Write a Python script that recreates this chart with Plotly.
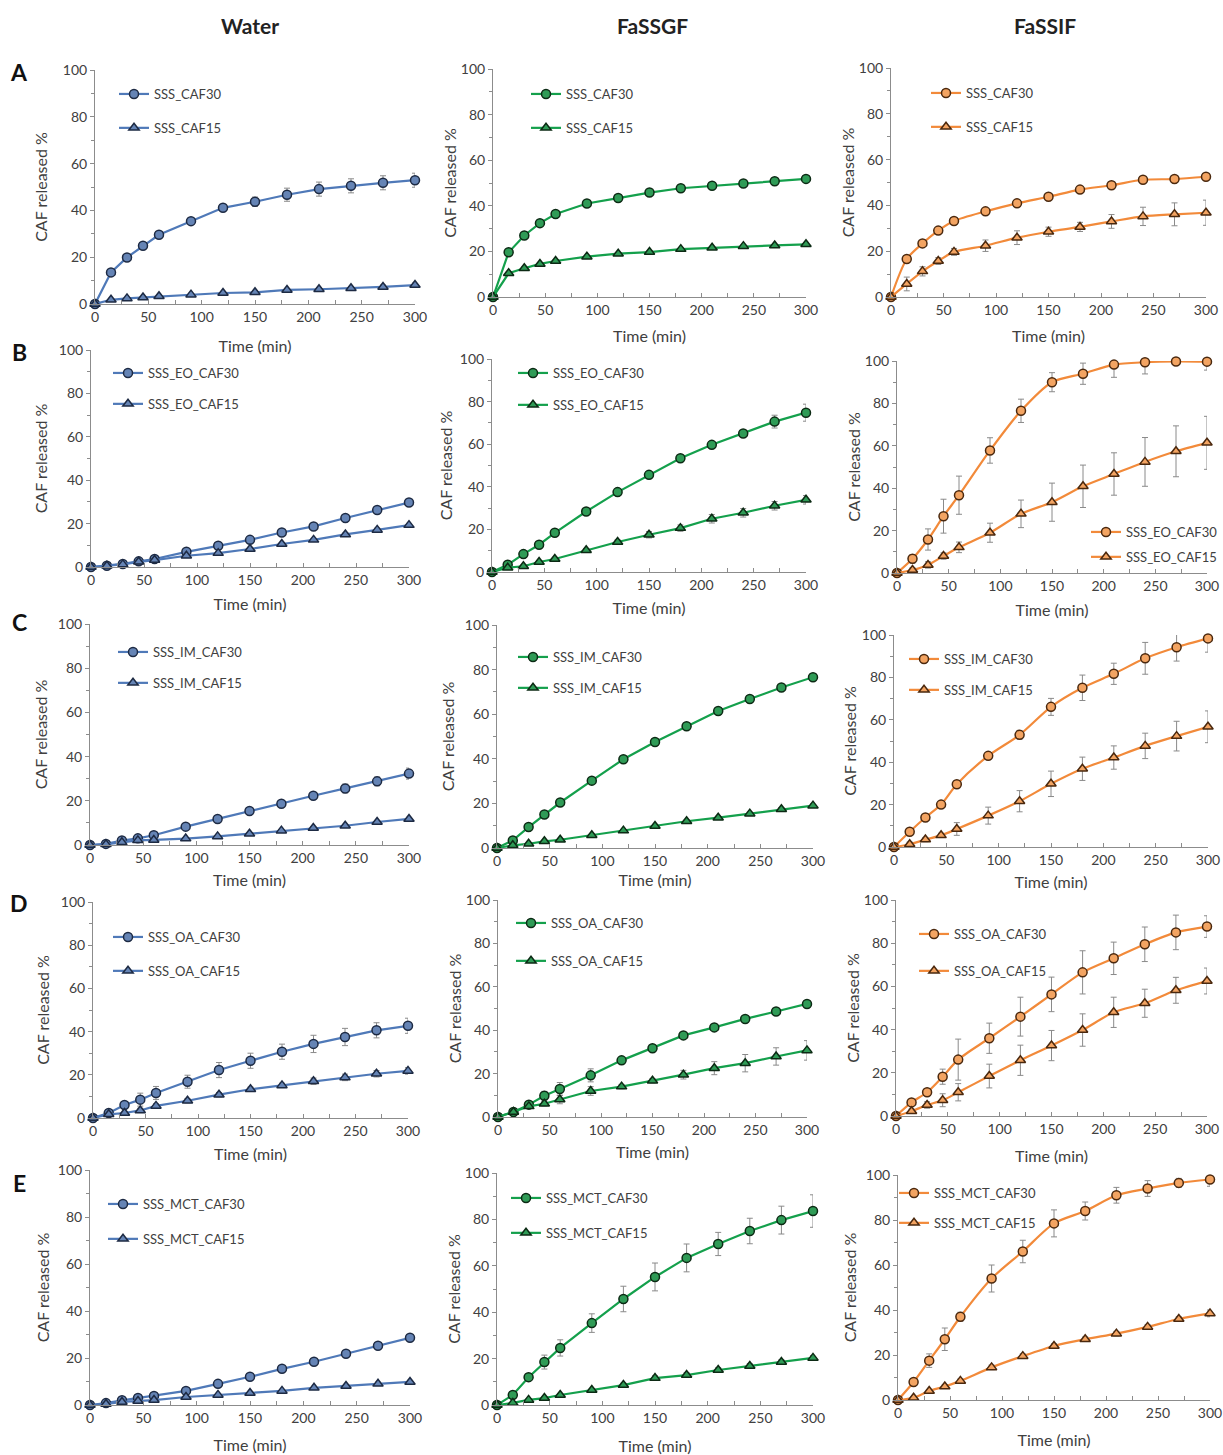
import plotly.graph_objects as go

# ---------------- data ----------------
time = [0, 15, 30, 45, 60, 90, 120, 150, 180, 210, 240, 270, 300]
media = ["Water", "FaSSGF", "FaSSIF"]
rows = ["A", "B", "C", "D", "E"]
prefixes = ["SSS_", "SSS_EO_", "SSS_IM_", "SSS_OA_", "SSS_MCT_"]

# Row A
A_water_30 = [0, 13.5, 19.9, 24.9, 29.6, 35.4, 41.1, 43.7, 46.7, 49.1, 50.5, 51.8, 52.9]
A_water_30_err = [0, 0.8, 1, 1, 1, 1.2, 1.5, 2, 2.8, 3, 3, 3, 3]
A_water_15 = [0, 1.8, 2.4, 2.8, 3.3, 4.0, 4.7, 5.0, 6.0, 6.3, 6.7, 7.3, 8.1]
A_water_15_err = [0, 0.3, 0.3, 0.3, 0.4, 0.5, 0.5, 0.6, 0.6, 0.7, 0.7, 0.8, 0.8]
A_gssgf_30 = [0, 19.6, 27.0, 32.4, 36.4, 41.0, 43.4, 45.8, 47.7, 48.8, 49.8, 50.8, 51.8]
A_gssgf_30_err = [0, 0.8, 1, 1, 1, 1, 1, 1, 1, 1, 1, 1, 1]
A_gssgf_15 = [0, 10.4, 12.6, 14.5, 15.8, 17.7, 19.0, 19.7, 21.0, 21.6, 22.3, 22.6, 23.1]
A_gssgf_15_err = [0, 0.5, 0.5, 0.5, 0.5, 0.5, 0.5, 0.5, 0.5, 0.5, 0.5, 0.5, 0.5]
A_fassif_30 = [0, 16.6, 23.4, 29.0, 33.2, 37.4, 40.9, 43.8, 46.9, 48.8, 51.2, 51.5, 52.5]
A_fassif_30_err = [0, 1, 1, 1, 1, 1, 1, 1, 1, 1.5, 1, 1, 1.2]
A_fassif_15 = [0, 5.7, 11.2, 15.7, 19.7, 22.4, 25.9, 28.5, 30.6, 33.0, 35.2, 36.1, 36.8]
A_fassif_15_err = [0, 3, 2, 1.5, 1.5, 2.5, 3, 2, 2, 3, 4, 5, 5.5]

# Row B (EO)
B_water_30 = [0, 0.6, 1.4, 2.6, 3.7, 7.0, 9.8, 12.5, 15.9, 18.7, 22.6, 26.3, 29.7]
B_water_30_err = [0, 0.3, 0.3, 0.4, 0.5, 0.6, 0.7, 0.8, 0.8, 1, 1, 1, 1]
B_water_15 = [0, 0.6, 1.2, 2.4, 3.2, 5.2, 6.4, 8.3, 10.6, 12.5, 15.0, 17.1, 19.3]
B_water_15_err = [0, 0.2, 0.3, 0.3, 0.4, 0.5, 0.5, 0.6, 0.6, 0.7, 0.7, 0.8, 0.8]
B_gssgf_30 = [0, 3.4, 8.4, 12.8, 18.4, 28.4, 37.5, 45.6, 53.4, 59.7, 65.0, 70.6, 74.8]
B_gssgf_30_err = [0, 0.8, 0.8, 0.8, 1, 1, 1, 1, 1, 1, 1.5, 3, 4]
B_gssgf_15 = [0, 2.0, 2.7, 4.7, 6.1, 10.2, 14.1, 17.5, 20.6, 25.0, 27.8, 31.1, 33.9]
B_gssgf_15_err = [0, 0.5, 0.5, 0.5, 0.8, 0.8, 1, 1.5, 1.5, 2, 2, 2, 2]
B_fassif_30 = [0, 6.7, 15.8, 26.8, 36.7, 57.8, 76.5, 90.0, 94.0, 98.3, 99.4, 99.8, 99.7]
B_fassif_30_err = [0, 2, 5, 8, 9, 6, 5.5, 4.5, 5, 6, 5.5, 1, 4]
B_fassif_15 = [0, 1.4, 3.8, 8.0, 12.1, 19.0, 27.9, 33.4, 40.9, 46.7, 52.4, 57.4, 61.4]
B_fassif_15_err = [0, 1, 1.5, 1.5, 2.5, 4.5, 6.5, 9, 10, 10, 11.5, 12, 12.5]

# Row C (IM)
C_water_30 = [0, 0.5, 2.0, 3.0, 4.4, 8.3, 11.8, 15.4, 18.7, 22.3, 25.6, 28.8, 32.3]
C_water_30_err = [0, 0.3, 0.5, 0.5, 0.6, 0.8, 1, 1, 1.2, 1.5, 2, 2, 2.5]
C_water_15 = [0, 0.3, 1.2, 2.1, 2.3, 2.9, 3.9, 5.1, 6.5, 7.7, 8.7, 10.4, 11.8]
C_water_15_err = [0, 0.2, 0.3, 0.3, 0.3, 0.4, 0.4, 0.5, 0.5, 0.6, 0.6, 0.7, 0.7]
C_gssgf_30 = [0, 3.4, 9.4, 15.0, 20.4, 30.2, 39.8, 47.5, 54.6, 61.4, 66.8, 72.0, 76.6]
C_gssgf_30_err = [0, 0.5, 0.8, 1, 1, 1, 1, 1, 1, 1, 1, 1, 1]
C_gssgf_15 = [0, 1.2, 1.9, 3.0, 3.7, 5.7, 7.8, 9.9, 12.0, 13.6, 15.4, 17.4, 19.0]
C_gssgf_15_err = [0, 0.3, 0.3, 0.4, 0.4, 0.5, 0.5, 0.5, 0.6, 0.6, 0.7, 0.7, 0.8]
C_fassif_30 = [0, 7.2, 13.9, 20.0, 29.6, 43.0, 52.9, 66.1, 75.1, 81.7, 89.0, 94.2, 98.4]
C_fassif_30_err = [0, 1, 1, 1, 1.5, 1, 2, 4, 6, 5, 7.5, 6.5, 6.5]
C_fassif_15 = [0, 1.3, 3.5, 5.5, 8.5, 14.8, 21.6, 29.8, 36.9, 42.2, 47.7, 52.3, 56.7]
C_fassif_15_err = [0, 1, 1, 1, 3, 4, 5, 6, 5.5, 5.5, 6, 7, 7.5]

# Row D (OA)
D_water_30 = [0, 2.3, 6.0, 8.5, 11.6, 16.8, 22.2, 26.5, 30.7, 34.3, 37.5, 40.6, 42.7]
D_water_30_err = [0, 0.8, 1.5, 3, 3, 3, 3.5, 3.5, 3.5, 4, 4, 3.5, 3.5]
D_water_15 = [0, 1.7, 2.3, 3.5, 5.6, 8.0, 10.8, 13.3, 15.1, 17.0, 18.8, 20.5, 21.8]
D_water_15_err = [0, 0.5, 0.8, 1, 1, 1, 1, 1, 1, 1.5, 1.5, 1.5, 1.5]
D_gssgf_30 = [0, 2.3, 5.7, 9.8, 12.9, 19.2, 26.1, 31.7, 37.6, 41.3, 45.2, 48.6, 52.1]
D_gssgf_30_err = [0, 0.8, 1, 2, 3, 3, 1.5, 1, 1, 1, 1, 1, 1]
D_gssgf_15 = [0, 2.3, 4.9, 6.1, 8.1, 12.0, 14.0, 16.7, 19.5, 22.5, 24.8, 27.9, 30.7]
D_gssgf_15_err = [0, 0.5, 1, 1, 2, 2, 1, 1, 2, 3, 4, 4, 4.5]
D_fassif_30 = [0, 6.3, 11.0, 18.2, 26.1, 36.0, 46.0, 56.3, 66.5, 73.0, 79.5, 85.0, 87.7]
D_fassif_30_err = [0, 1, 1.5, 3.5, 9.5, 7, 9, 8, 10, 7.5, 8, 8, 5]
D_fassif_15 = [0, 2.2, 5.1, 7.3, 11.0, 18.5, 25.8, 32.6, 39.8, 48.0, 52.2, 58.2, 62.5]
D_fassif_15_err = [0, 1, 1.5, 3, 4, 5.5, 7, 7, 7.5, 7, 6.5, 6, 6]

# Row E (MCT)
E_water_30 = [0, 0.8, 2.0, 3.0, 3.8, 6.0, 9.0, 12.0, 15.4, 18.4, 21.8, 25.2, 28.6]
E_water_30_err = [0, 0.3, 0.4, 0.5, 0.6, 0.8, 1, 1, 1, 1, 1, 1, 1]
E_water_15 = [0, 0.4, 1.3, 1.7, 2.1, 3.4, 4.3, 5.1, 6.0, 7.3, 8.1, 9.0, 9.8]
E_water_15_err = [0, 0.2, 0.3, 0.3, 0.3, 0.4, 0.4, 0.5, 0.5, 0.6, 0.6, 0.7, 0.7]
E_gssgf_30 = [0, 4.3, 12.0, 18.5, 24.6, 35.3, 45.7, 55.2, 63.4, 69.4, 75.0, 79.7, 83.6]
E_gssgf_30_err = [0, 1, 1.5, 3, 3.5, 4, 5.5, 6, 6, 5, 5.5, 6, 7]
E_gssgf_15 = [0, 0.9, 2.2, 3.0, 4.3, 6.5, 8.6, 11.6, 12.9, 15.1, 16.8, 18.5, 20.3]
E_gssgf_15_err = [0, 0.5, 0.5, 0.5, 0.5, 0.6, 0.8, 1, 1, 1, 1, 1, 1]
E_fassif_30 = [0, 8.0, 17.5, 27.0, 37.0, 54.0, 66.0, 78.5, 84.0, 91.0, 94.0, 96.5, 98.0]
E_fassif_30_err = [0, 1.5, 3, 5, 2, 6, 5, 6, 4, 3.5, 3.5, 2, 3]
E_fassif_15 = [0, 1.0, 4.0, 6.0, 8.5, 14.5, 19.5, 24.0, 27.0, 29.5, 32.5, 36.0, 38.5]
E_fassif_15_err = [0, 0.5, 0.5, 0.8, 0.8, 1, 1, 1, 1, 1, 1, 1, 1.5]

data = {
    "A": [(A_water_30, A_water_30_err, A_water_15, A_water_15_err),
          (A_gssgf_30, A_gssgf_30_err, A_gssgf_15, A_gssgf_15_err),
          (A_fassif_30, A_fassif_30_err, A_fassif_15, A_fassif_15_err)],
    "B": [(B_water_30, B_water_30_err, B_water_15, B_water_15_err),
          (B_gssgf_30, B_gssgf_30_err, B_gssgf_15, B_gssgf_15_err),
          (B_fassif_30, B_fassif_30_err, B_fassif_15, B_fassif_15_err)],
    "C": [(C_water_30, C_water_30_err, C_water_15, C_water_15_err),
          (C_gssgf_30, C_gssgf_30_err, C_gssgf_15, C_gssgf_15_err),
          (C_fassif_30, C_fassif_30_err, C_fassif_15, C_fassif_15_err)],
    "D": [(D_water_30, D_water_30_err, D_water_15, D_water_15_err),
          (D_gssgf_30, D_gssgf_30_err, D_gssgf_15, D_gssgf_15_err),
          (D_fassif_30, D_fassif_30_err, D_fassif_15, D_fassif_15_err)],
    "E": [(E_water_30, E_water_30_err, E_water_15, E_water_15_err),
          (E_gssgf_30, E_gssgf_30_err, E_gssgf_15, E_gssgf_15_err),
          (E_fassif_30, E_fassif_30_err, E_fassif_15, E_fassif_15_err)],
}

# ---------------- styling / layout ----------------
W, H = 1223, 1455
FONT = "Lato"
TXT = "#404040"


def px(X):
    return X / W


def py(Y):
    return 1 - Y / H


styles = [
    dict(line="#4f79b8", fill="#6584b5", edge="#1d2a43", shape="linear"),
    dict(line="#14a04c", fill="#2f9b56", edge="#0c2a14", shape="linear"),
    dict(line="#f28a3a", fill="#f3a462", edge="#4a280e", shape="spline"),
]

# plot-area boxes in page pixels: (x at 0, x at 300, y at 100, y at 0)
boxes = {
    "A": [(95, 415, 70, 304), (493, 806, 69, 297), (891, 1206, 68, 297)],
    "B": [(91, 409, 350, 567), (492, 806, 359, 572), (897, 1207, 361, 573)],
    "C": [(90, 409, 624, 845), (497, 813, 625, 848), (894, 1208, 635, 847)],
    "D": [(93, 408, 902, 1118), (498, 807, 900, 1117), (896, 1207, 900, 1116)],
    "E": [(90, 410, 1170, 1405), (497, 813, 1173, 1405), (898, 1210, 1175, 1400)],
}
# axis-title standoffs (x title, y title)
standoffs = {
    "A": [(17, 11), (14, 0), (14, 0)],
    "B": [(12, 7), (11, 3), (12, 0)],
    "C": [(10, 6), (7, 6), (10, 1)],
    "D": [(11, 7), (10, 0), (15, 0)],
    "E": [(15, 4), (16, 0), (15, 5)],
}
# legend: (line start x px, first entry center y px, gap px)
legpos = {
    "A": [(120, 93, 14), (532, 93, 14), (932, 92, 14)],
    "B": [(114, 372, 11), (519, 372, 12), (1092, 531, 5)],
    "C": [(119, 651, 11), (519, 656, 11), (910, 658, 11)],
    "D": [(114, 936, 14), (517, 922, 18), (920, 933, 17)],
    "E": [(109, 1203, 15), (512, 1197, 15), (900, 1192, 10)],
}

fig = go.Figure()
layout = dict(
    template="none",
    width=W, height=H, margin=dict(l=0, r=0, t=0, b=0, pad=0), autosize=False,
    paper_bgcolor="white", plot_bgcolor="white",
    font=dict(family=FONT, color=TXT, size=13),
    annotations=[], showlegend=True,
)

k = 0
for r, row in enumerate(rows):
    for c in range(3):
        k += 1
        xa = "x" if k == 1 else f"x{k}"
        ya = "y" if k == 1 else f"y{k}"
        leg = "legend" if k == 1 else f"legend{k}"
        st = styles[c]
        d30, e30, d15, e15 = data[row][c]
        for vals, errs, sym, tag in [(d30, e30, "circle", "CAF30"), (d15, e15, "triangle-up", "CAF15")]:
            fig.add_trace(go.Scatter(
                x=time, y=vals, xaxis=xa, yaxis=ya, mode="lines+markers",
                name=prefixes[r] + tag, legend=leg, legendgroup=f"p{k}{tag}",
                line=dict(color=st["line"], width=2.2, shape=st["shape"], smoothing=0.8),
                marker=dict(symbol=sym, size=9,
                            color=st["fill"], line=dict(color=st["edge"], width=1.5)),
                error_y=dict(type="data", array=errs, visible=True,
                             color="#8a8a8a", thickness=1, width=3),
                cliponaxis=False,
            ))
        x0, x1, yt, yb = boxes[row][c]
        sx, sy = standoffs[row][c]
        axis_common = dict(showline=True, linecolor="#8c8c8c", linewidth=1,
                           showgrid=False, zeroline=False, automargin=False,
                           tickfont=dict(family=FONT, size=14, color=TXT))
        layout["xaxis" if k == 1 else f"xaxis{k}"] = dict(
            axis_common, domain=[px(x0), px(x1)], range=[0, 300], anchor=ya,
            tickvals=[0, 50, 100, 150, 200, 250, 300], ticks="inside", ticklen=4,
            tickcolor="#8c8c8c",
            minor=dict(dtick=25, tick0=0, ticks="inside", ticklen=4, tickcolor="#8c8c8c"),
            title=dict(text="Time (min)", font=dict(family=FONT, size=16, color=TXT), standoff=sx),
        )
        layout["yaxis" if k == 1 else f"yaxis{k}"] = dict(
            axis_common, domain=[py(yb), py(yt)], range=[0, 100], anchor=xa,
            tickvals=[0, 20, 40, 60, 80, 100], ticks="outside", ticklen=4,
            tickcolor="#8c8c8c",
            minor=dict(dtick=10, tick0=0, ticks="outside", ticklen=3, tickcolor="#8c8c8c"),
            title=dict(text="CAF released %", font=dict(family=FONT, size=16, color=TXT), standoff=sy),
        )
        lx, ly, gap = legpos[row][c]
        layout[leg] = dict(
            x=px(lx - 6), y=py(ly - 14), xanchor="left", yanchor="top",
            bgcolor="rgba(0,0,0,0)", borderwidth=0, tracegroupgap=gap,
            font=dict(family=FONT, size=13, color=TXT), itemwidth=30,
        )

for name, xc in zip(media, [250, 652, 1045]):
    layout["annotations"].append(dict(
        text=f"<b>{name}</b>", x=px(xc), y=py(25), xref="paper", yref="paper",
        showarrow=False, font=dict(family=FONT, size=21, color="#222222"),
        xanchor="center", yanchor="middle"))
for row, yc in zip(rows, [72, 352, 622, 903, 1183]):
    layout["annotations"].append(dict(
        text=f"<b>{row}</b>", x=px(19), y=py(yc), xref="paper", yref="paper",
        showarrow=False, font=dict(family=FONT, size=23, color="#111111"),
        xanchor="center", yanchor="middle"))

fig.update_layout(**layout)
fig.write_html(
    "out.html", config={"displayModeBar": False},
    post_script="document.body.style.margin='0px';document.body.style.overflow='hidden';",
)
